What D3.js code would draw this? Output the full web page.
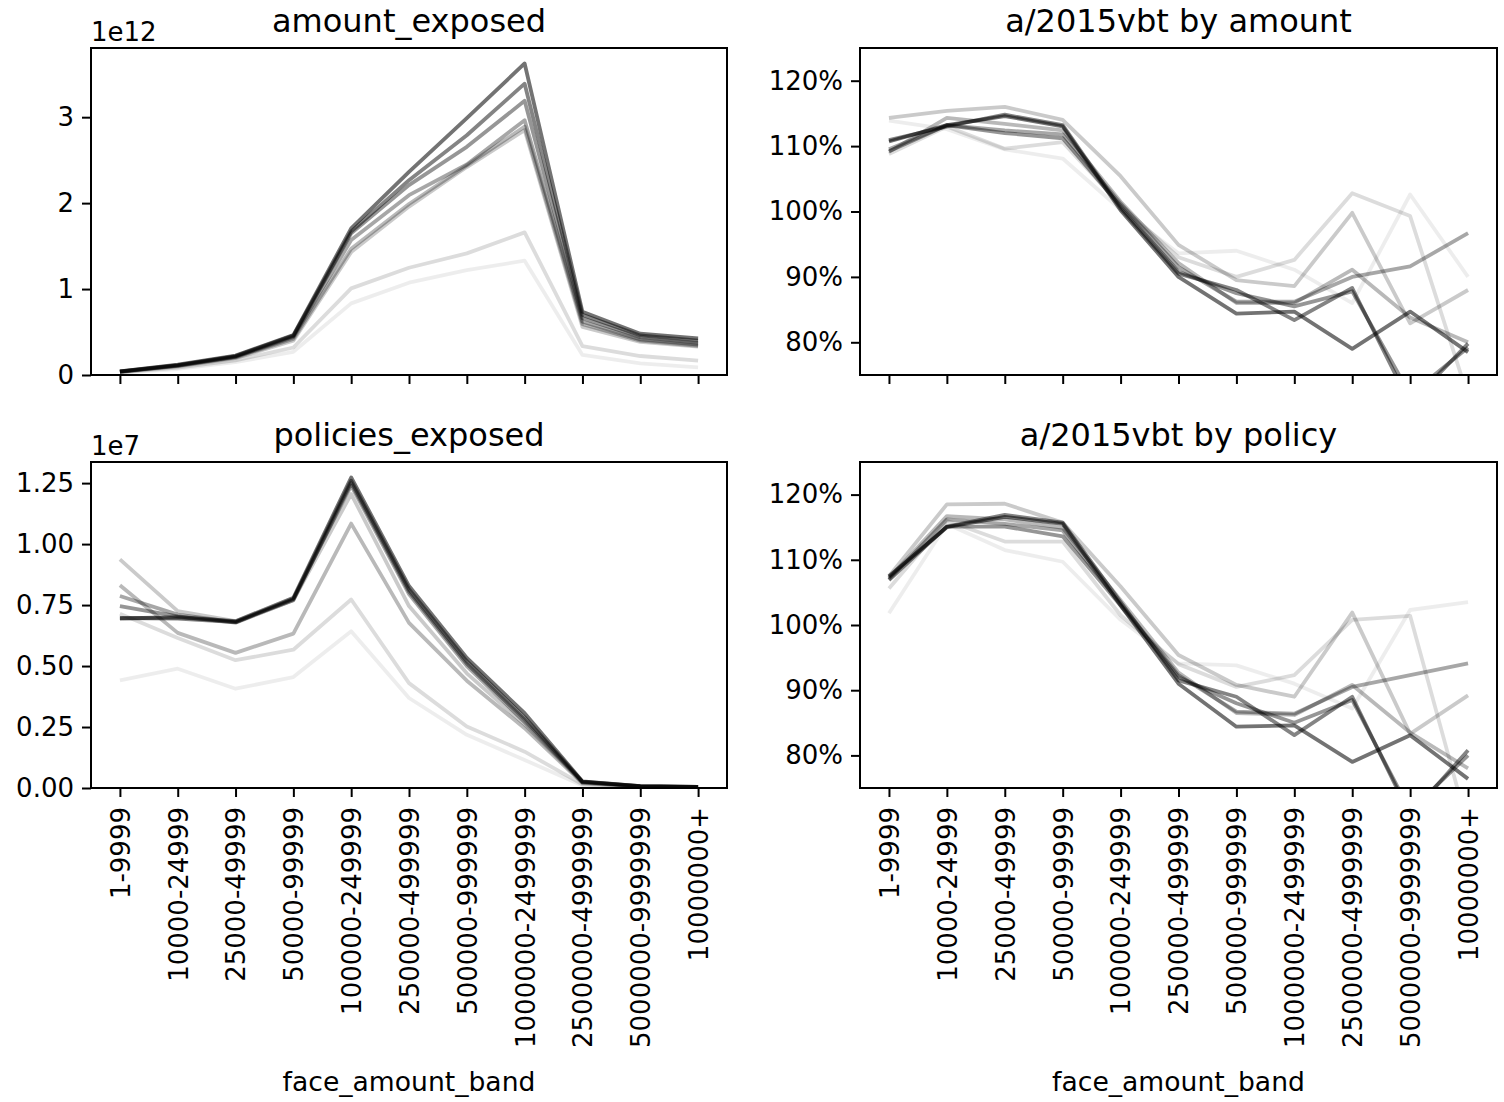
<!DOCTYPE html>
<html>
<head>
<meta charset="utf-8">
<script src="https://cdn.jsdelivr.net/npm/d3@7"></script>
<style>
  html, body { margin: 0; padding: 0; background: #fff; }
  svg { display: block; }
  text { font-family: "DejaVu Sans", sans-serif; fill: #000; }
</style>
</head>
<body>
<svg id="chart" width="1504" height="1102"></svg>
<script>
// ---------------- data ----------------
const categories = ["1-9999", "10000-24999", "25000-49999", "50000-99999", "100000-249999",
  "250000-499999", "500000-999999", "1000000-2499999", "2500000-4999999", "5000000-9999999", "10000000+"];

// amount_exposed, in units of 1e12 (one row per series, lightest first)
const amountExposed = [
  [0.025, 0.070, 0.150, 0.270, 0.833, 1.074, 1.220, 1.330, 0.233, 0.136, 0.089],
  [0.030, 0.085, 0.170, 0.320, 1.008, 1.248, 1.415, 1.660, 0.337, 0.221, 0.167],
  [0.035, 0.100, 0.195, 0.400, 1.430, 1.960, 2.420, 2.850, 0.560, 0.385, 0.330],
  [0.036, 0.105, 0.205, 0.420, 1.470, 1.990, 2.440, 2.890, 0.590, 0.400, 0.340],
  [0.038, 0.108, 0.210, 0.440, 1.570, 2.093, 2.450, 2.965, 0.620, 0.415, 0.355],
  [0.040, 0.112, 0.215, 0.450, 1.648, 2.209, 2.655, 3.190, 0.660, 0.440, 0.375],
  [0.041, 0.116, 0.220, 0.458, 1.670, 2.267, 2.790, 3.390, 0.700, 0.460, 0.400],
  [0.042, 0.120, 0.225, 0.465, 1.706, 2.364, 2.990, 3.625, 0.735, 0.480, 0.425]
];

// policies_exposed, in units of 1e7
const policiesExposed = [
  [0.441, 0.489, 0.407, 0.455, 0.643, 0.369, 0.218, 0.115, 0.010, 0.004, 0.002],
  [0.714, 0.615, 0.524, 0.567, 0.773, 0.430, 0.252, 0.149, 0.015, 0.006, 0.003],
  [0.9375, 0.725, 0.684, 0.770, 1.205, 0.746, 0.470, 0.260, 0.022, 0.007, 0.003],
  [0.831, 0.636, 0.554, 0.633, 1.084, 0.677, 0.440, 0.245, 0.020, 0.006, 0.003],
  [0.787, 0.711, 0.680, 0.775, 1.240, 0.795, 0.500, 0.270, 0.024, 0.007, 0.003],
  [0.746, 0.704, 0.678, 0.770, 1.250, 0.805, 0.510, 0.280, 0.025, 0.008, 0.004],
  [0.697, 0.695, 0.680, 0.775, 1.260, 0.815, 0.520, 0.290, 0.026, 0.008, 0.004],
  [0.695, 0.700, 0.684, 0.780, 1.273, 0.828, 0.533, 0.307, 0.027, 0.008, 0.004]
];

// a/2015vbt by amount (ratio)
const aeByAmount = [
  [1.139, 1.126, 1.095, 1.081, 1.003, 0.936, 0.940, 0.911, 0.860, 1.026, 0.900],
  [1.088, 1.130, 1.096, 1.106, 1.010, 0.930, 0.900, 0.926, 1.028, 0.993, 0.717],
  [1.143, 1.154, 1.160, 1.140, 1.054, 0.949, 0.895, 0.886, 0.998, 0.829, 0.880],
  [1.091, 1.143, 1.134, 1.124, 1.015, 0.921, 0.860, 0.860, 0.911, 0.838, 0.800],
  [1.095, 1.132, 1.124, 1.118, 1.012, 0.915, 0.862, 0.862, 0.900, 0.916, 0.967],
  [1.092, 1.132, 1.120, 1.112, 1.008, 0.908, 0.875, 0.855, 0.878, 0.720, 0.792],
  [1.109, 1.130, 1.148, 1.132, 1.005, 0.905, 0.880, 0.834, 0.883, 0.706, 0.798],
  [1.107, 1.132, 1.146, 1.130, 1.002, 0.900, 0.844, 0.847, 0.790, 0.847, 0.785]
];

// a/2015vbt by policy (ratio)
const aeByPolicy = [
  [1.018, 1.155, 1.115, 1.097, 1.008, 0.941, 0.938, 0.910, 0.872, 1.023, 1.035],
  [1.056, 1.160, 1.128, 1.128, 1.015, 0.940, 0.905, 0.923, 1.008, 1.014, 0.690],
  [1.075, 1.185, 1.186, 1.157, 1.059, 0.954, 0.908, 0.890, 1.019, 0.833, 0.892],
  [1.072, 1.167, 1.162, 1.149, 1.038, 0.927, 0.865, 0.862, 0.908, 0.835, 0.780],
  [1.070, 1.162, 1.155, 1.145, 1.032, 0.923, 0.867, 0.864, 0.905, 0.923, 0.941],
  [1.073, 1.151, 1.151, 1.136, 1.030, 0.920, 0.880, 0.850, 0.885, 0.715, 0.800],
  [1.069, 1.151, 1.169, 1.157, 1.035, 0.915, 0.890, 0.831, 0.890, 0.708, 0.808],
  [1.075, 1.150, 1.166, 1.155, 1.030, 0.910, 0.844, 0.846, 0.790, 0.831, 0.764]
];

const amountTicks = [0, 1, 2, 3];
const policyTicks = [0, 0.25, 0.5, 0.75, 1.0, 1.25];
const aeTicks = [0.8, 0.9, 1.0, 1.1, 1.2];
const aeDomain = [0.75, 1.25];
const titles = ["amount_exposed", "a/2015vbt by amount", "policies_exposed", "a/2015vbt by policy"];
const offsetTexts = ["1e12", null, "1e7", null];
const xAxisLabel = "face_amount_band";

// ---------------- drawing ----------------
const svg = d3.select("#chart");
svg.append("rect").attr("width", 1504).attr("height", 1102).attr("fill", "#fff");

const TICK_FS = 26, TITLE_FS = 32;
const nSeries = amountExposed.length;
const alphaFor = i => 0.07 + (0.55 - 0.07) * i / (nSeries - 1);

function autoTop(rows) {
  const all = rows.flat();
  const mx = d3.max(all), mn = d3.min(all);
  return mx + 0.05 * (mx - mn);
}

const panels = [
  { key: 0, box: [91, 48, 727, 375], data: amountExposed, domain: [0, autoTop(amountExposed)],
    ticks: amountTicks, fmt: d => d3.format("d")(d), xlabels: false },
  { key: 1, box: [860, 48, 1497, 375], data: aeByAmount, domain: aeDomain,
    ticks: aeTicks, fmt: d => Math.round(d * 100) + "%", xlabels: false },
  { key: 2, box: [91, 462, 727, 788], data: policiesExposed, domain: [0, autoTop(policiesExposed)],
    ticks: policyTicks, fmt: d => d3.format(".2f")(d), xlabels: true },
  { key: 3, box: [860, 462, 1497, 788], data: aeByPolicy, domain: aeDomain,
    ticks: aeTicks, fmt: d => Math.round(d * 100) + "%", xlabels: true }
];

const defs = svg.append("defs");

panels.forEach(p => {
  const [x0, y0, x1, y1] = p.box;
  const x = d3.scalePoint().domain(categories).range([x0, x1]).padding(0.5);
  const y = d3.scaleLinear().domain(p.domain).range([y1, y0]);
  const g = svg.append("g");

  const clipId = "clip" + p.key;
  defs.append("clipPath").attr("id", clipId)
    .append("rect").attr("x", x0).attr("y", y0).attr("width", x1 - x0).attr("height", y1 - y0);

  // lines
  const line = d3.line().x((d, i) => x(categories[i])).y(d => y(d));
  const lg = g.append("g").attr("clip-path", `url(#${clipId})`);
  p.data.forEach((row, i) => {
    lg.append("path")
      .attr("d", line(row))
      .attr("fill", "none")
      .attr("stroke", "#000")
      .attr("stroke-opacity", alphaFor(i))
      .attr("stroke-width", 3.8)
      .attr("stroke-linejoin", "round")
      .attr("stroke-linecap", "butt");
  });

  // y axis
  const ya = g.append("g").attr("transform", `translate(${x0},0)`)
    .call(d3.axisLeft(y).tickValues(p.ticks).tickSize(9).tickPadding(8).tickFormat(p.fmt));
  ya.select(".domain").remove();
  ya.selectAll(".tick line").attr("stroke", "#000").attr("stroke-width", 2);
  ya.selectAll(".tick text").attr("font-size", TICK_FS).attr("font-family", "DejaVu Sans").attr("fill", "#000");

  // x axis
  const xa = g.append("g").attr("transform", `translate(0,${y1})`)
    .call(d3.axisBottom(x).tickSize(9).tickPadding(9));
  xa.select(".domain").remove();
  xa.selectAll(".tick line").attr("stroke", "#000").attr("stroke-width", 2);
  if (p.xlabels) {
    xa.selectAll(".tick text")
      .attr("font-size", TICK_FS).attr("font-family", "DejaVu Sans").attr("fill", "#000")
      .attr("text-anchor", "end")
      .attr("transform", "translate(0,19) rotate(-90)")
      .attr("x", 0).attr("y", 0).attr("dy", "0.36em");
    g.append("text")
      .attr("x", (x0 + x1) / 2).attr("y", 1091)
      .attr("text-anchor", "middle").attr("font-size", 26.6)
      .text(xAxisLabel);
  } else {
    xa.selectAll(".tick text").remove();
  }

  // frame
  g.append("rect").attr("x", x0).attr("y", y0).attr("width", x1 - x0).attr("height", y1 - y0)
    .attr("fill", "none").attr("stroke", "#000").attr("stroke-width", 2);

  // title
  g.append("text").attr("x", (x0 + x1) / 2).attr("y", y0 - 16)
    .attr("text-anchor", "middle").attr("font-size", TITLE_FS).text(titles[p.key]);

  // offset text
  if (offsetTexts[p.key]) {
    g.append("text").attr("x", x0).attr("y", y0 - 7)
      .attr("text-anchor", "start").attr("font-size", TICK_FS).text(offsetTexts[p.key]);
  }
});
</script>
</body>
</html>
